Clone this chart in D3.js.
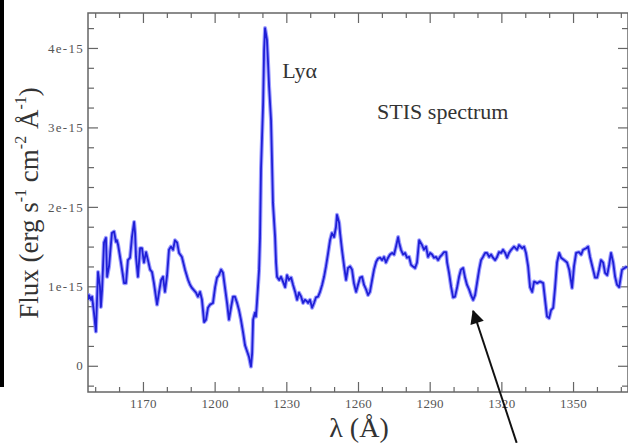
<!DOCTYPE html>
<html>
<head>
<meta charset="utf-8">
<script src="https://cdn.jsdelivr.net/npm/d3@7"></script>
<style>
  body { margin: 0; background: #fff; }
  svg { display: block; font-family: "Liberation Serif", "DejaVu Serif", serif; }
</style>
</head>
<body>
<div id="chart"></div>
<script>
// STIS spectrum, flux in units of 1e-15 erg s-1 cm-2 A-1

// wavelength (Angstrom)
const wave = [
  1147.0, 1147.4, 1148.3, 1148.7, 1149.5, 1150.3, 1151.2, 1152.0, 1152.4, 1152.9,
  1153.7, 1154.5, 1155.0, 1155.8, 1157.0, 1157.9, 1158.7, 1159.1, 1159.6, 1160.8,
  1162.1, 1162.9, 1163.7, 1164.6, 1165.4, 1166.3, 1166.7, 1167.1, 1167.9, 1168.8,
  1169.6, 1170.4, 1171.3, 1172.1, 1173.0, 1173.8, 1174.6, 1175.9, 1176.7, 1177.6,
  1178.4, 1179.2, 1180.1, 1180.9, 1181.7, 1182.6, 1183.4, 1184.3, 1185.1, 1186.3,
  1187.6, 1188.9, 1189.7, 1190.5, 1192.2, 1193.0, 1193.9, 1194.7, 1195.6, 1196.4,
  1197.2, 1198.1, 1199.3, 1200.2, 1201.0, 1201.8, 1202.7, 1203.5, 1204.3, 1205.2,
  1206.0, 1206.9, 1207.7, 1208.5, 1209.4, 1210.2, 1211.0, 1211.9, 1212.7, 1213.6,
  1214.4, 1215.2, 1215.7, 1216.1, 1216.9, 1217.3, 1217.7, 1218.6, 1219.0, 1219.4,
  1220.3, 1220.7, 1221.1, 1221.9, 1222.3, 1222.8, 1223.6, 1224.0, 1224.4, 1225.3,
  1225.7, 1226.1, 1227.0, 1227.8, 1228.6, 1229.5, 1230.3, 1231.1, 1232.0, 1232.8,
  1233.7, 1234.5, 1235.3, 1236.2, 1237.0, 1237.8, 1238.7, 1239.1, 1239.9, 1240.8,
  1241.6, 1242.4, 1243.3, 1244.1, 1245.0, 1245.8, 1246.6, 1247.5, 1248.3, 1249.1,
  1250.0, 1250.8, 1251.2, 1252.1, 1252.5, 1253.3, 1254.2, 1255.0, 1255.8, 1256.7,
  1257.5, 1258.3, 1259.2, 1260.0, 1260.9, 1261.7, 1262.5, 1263.4, 1264.2, 1265.0,
  1265.9, 1266.7, 1267.6, 1268.4, 1269.2, 1270.1, 1270.9, 1271.7, 1272.6, 1273.4,
  1274.3, 1275.1, 1275.9, 1276.8, 1277.2, 1278.0, 1278.9, 1279.7, 1280.5, 1281.4,
  1282.2, 1283.0, 1283.9, 1284.7, 1285.6, 1286.8, 1287.6, 1288.5, 1289.3, 1290.2,
  1291.0, 1291.8, 1292.7, 1293.5, 1294.3, 1295.2, 1296.0, 1296.9, 1297.3, 1298.1,
  1299.0, 1299.8, 1300.6, 1301.5, 1302.3, 1303.1, 1304.0, 1304.8, 1305.6, 1306.5,
  1307.3, 1308.2, 1309.0, 1309.8, 1310.7, 1311.5, 1312.3, 1313.2, 1314.0, 1314.9,
  1315.7, 1316.5, 1317.4, 1318.2, 1319.0, 1319.9, 1320.7, 1321.6, 1322.4, 1323.2,
  1324.1, 1325.3, 1326.6, 1327.4, 1328.7, 1329.5, 1330.3, 1331.2, 1332.0, 1332.9,
  1333.7, 1335.0, 1336.2, 1337.5, 1338.3, 1339.1, 1340.0, 1340.8, 1341.7, 1342.5,
  1343.3, 1344.2, 1345.0, 1346.3, 1347.5, 1348.4, 1349.2, 1349.6, 1350.4, 1351.3,
  1352.5, 1353.4, 1354.2, 1355.5, 1356.3, 1357.1, 1358.4, 1359.2, 1360.1, 1360.9,
  1361.7, 1362.6, 1363.4, 1364.3, 1365.1, 1365.9, 1366.8, 1367.6, 1368.4, 1369.3,
  1370.5, 1372.6
];

// flux (1e-15 erg s-1 cm-2 A-1)
const flux = [
  0.83, 0.89, 0.83, 0.87, 0.67, 0.43, 1.18, 1.00, 0.74, 0.96,
  1.55, 1.61, 1.12, 1.25, 1.67, 1.69, 1.56, 1.58, 1.52, 1.30,
  1.04, 1.04, 1.33, 1.36, 1.62, 1.81, 1.67, 1.37, 1.12, 1.48,
  1.48, 1.30, 1.43, 1.33, 1.21, 1.18, 1.04, 0.77, 0.92, 1.08,
  1.12, 0.93, 1.14, 1.46, 1.50, 1.46, 1.58, 1.55, 1.42, 1.37,
  1.21, 1.08, 1.02, 0.98, 0.92, 0.87, 0.93, 0.83, 0.55, 0.58,
  0.73, 0.77, 0.79, 0.99, 1.11, 1.14, 1.21, 1.17, 0.99, 0.79,
  0.58, 0.74, 0.87, 0.87, 0.79, 0.70, 0.58, 0.42, 0.26, 0.18,
  0.11, -0.01, 0.16, 0.58, 0.67, 0.62, 0.79, 1.21, 1.62, 2.47,
  3.31, 3.97, 4.25, 4.10, 3.85, 3.51, 3.09, 2.59, 2.05, 1.62,
  1.30, 1.12, 1.08, 1.12, 1.06, 0.99, 1.14, 1.08, 1.11, 1.02,
  0.93, 0.83, 0.92, 0.87, 0.79, 0.83, 0.81, 0.79, 0.83, 0.73,
  0.79, 0.86, 0.87, 0.93, 1.02, 1.12, 1.25, 1.42, 1.58, 1.67,
  1.62, 1.75, 1.90, 1.80, 1.67, 1.46, 1.25, 1.08, 1.23, 1.25,
  1.21, 1.04, 0.93, 1.02, 1.11, 1.12, 1.02, 0.96, 0.89, 0.93,
  1.08, 1.21, 1.31, 1.35, 1.36, 1.33, 1.37, 1.30, 1.36, 1.40,
  1.42, 1.40, 1.50, 1.62, 1.55, 1.46, 1.40, 1.42, 1.36, 1.37,
  1.27, 1.25, 1.23, 1.30, 1.58, 1.52, 1.46, 1.50, 1.37, 1.42,
  1.40, 1.36, 1.37, 1.33, 1.37, 1.40, 1.43, 1.43, 1.30, 1.17,
  0.99, 0.86, 0.87, 0.99, 1.12, 1.21, 1.23, 1.11, 1.02, 0.96,
  0.89, 0.83, 0.89, 1.04, 1.21, 1.33, 1.37, 1.42, 1.42, 1.37,
  1.40, 1.36, 1.33, 1.37, 1.43, 1.42, 1.46, 1.42, 1.36, 1.42,
  1.46, 1.50, 1.46, 1.52, 1.48, 1.50, 1.42, 1.25, 0.99, 0.93,
  1.06, 1.04, 1.06, 1.04, 0.83, 0.62, 0.60, 0.70, 0.73, 0.99,
  1.30, 1.42, 1.36, 1.33, 1.30, 1.21, 1.06, 0.98, 1.25, 1.42,
  1.43, 1.40, 1.46, 1.48, 1.50, 1.37, 1.21, 1.11, 1.11, 1.21,
  1.33, 1.30, 1.17, 1.14, 1.27, 1.42, 1.30, 1.12, 1.02, 0.99,
  1.21, 1.25
];

// axis ticks
const xMajorTicks = [1170, 1200, 1230, 1260, 1290, 1320, 1350];
const yMajorTicks = [0, 1, 2, 3, 4];

// annotation: arrow from below the axis up to the absorption dip
const arrowTail = [1326.4, -0.97];
const arrowTip = [1308.2, 0.69];

const W = 628, H = 443;
const margin = { left: 88, top: 13, right: 0, bottom: 51 };
const plotW = W - margin.left - margin.right;
const plotH = H - margin.top - margin.bottom;

const x = d3.scaleLinear().domain([1147, 1373]).range([0, plotW]);
const y = d3.scaleLinear().domain([-0.33, 4.44]).range([plotH, 0]);

const svg = d3.select("#chart").append("svg")
  .attr("width", W).attr("height", H);

// black bar at the left edge of the picture
svg.append("rect")
  .attr("x", 0).attr("y", 0).attr("width", 4).attr("height", 387)
  .attr("fill", "#000");

const g = svg.append("g").attr("transform", `translate(${margin.left},${margin.top})`);

g.append("clipPath").attr("id", "clip")
  .append("rect").attr("width", plotW).attr("height", plotH);

const axisColor = "#666";
const labelColor = "#555";
const yFmt = d => d === 0 ? "0" : d + "e-15";

// minor ticks
const xMinor = d3.range(1150, 1373, 10).filter(v => !xMajorTicks.includes(v));
const yMinor = d3.range(-0.25, 4.44, 0.25).filter(v => Math.abs(v - Math.round(v)) > 0.01);

function styleAxis(sel) {
  sel.select(".domain").remove();
  sel.selectAll("line").attr("stroke", axisColor).attr("stroke-width", 1.2);
  sel.selectAll("text")
    .attr("fill", labelColor)
    .style("font-size", "13px")
    .style("font-family", "'Liberation Serif', serif");
}

// bottom
g.append("g").attr("transform", `translate(0,${plotH})`)
  .call(d3.axisBottom(x).tickValues(xMajorTicks).tickFormat(d3.format("d")).tickSize(-10).tickPadding(7))
  .call(styleAxis)
  .selectAll("text").style("letter-spacing", "0.3px");
g.append("g").attr("transform", `translate(0,${plotH})`)
  .call(d3.axisBottom(x).tickValues(xMinor).tickFormat("").tickSize(-5))
  .call(styleAxis);
// top
g.append("g")
  .call(d3.axisTop(x).tickValues(xMajorTicks).tickFormat("").tickSize(-10))
  .call(styleAxis);
g.append("g")
  .call(d3.axisTop(x).tickValues(xMinor).tickFormat("").tickSize(-5))
  .call(styleAxis);
// left
g.append("g")
  .call(d3.axisLeft(y).tickValues(yMajorTicks).tickFormat(yFmt).tickSize(-10).tickPadding(4))
  .call(styleAxis)
  .selectAll("text").style("letter-spacing", "1.3px");
g.append("g")
  .call(d3.axisLeft(y).tickValues(yMinor).tickFormat("").tickSize(-6))
  .call(styleAxis);
// right
g.append("g").attr("transform", `translate(${plotW},0)`)
  .call(d3.axisRight(y).tickValues(yMajorTicks).tickFormat("").tickSize(-10))
  .call(styleAxis);
g.append("g").attr("transform", `translate(${plotW},0)`)
  .call(d3.axisRight(y).tickValues(yMinor).tickFormat("").tickSize(-6))
  .call(styleAxis);

// frame
g.append("rect")
  .attr("width", plotW).attr("height", plotH)
  .attr("fill", "none").attr("stroke", axisColor).attr("stroke-width", 1.5);

// spectrum
const pts = wave.map((w, i) => [w, flux[i]]);
const line = d3.line().x(d => x(d[0])).y(d => y(d[1]));

const lineG = g.append("g").attr("clip-path", "url(#clip)");
lineG.append("path").datum(pts)
  .attr("d", line)
  .attr("fill", "none")
  .attr("stroke", "#7a7aff")
  .attr("stroke-width", 4)
  .attr("stroke-linejoin", "round")
  .attr("opacity", 0.75);
lineG.append("path").datum(pts)
  .attr("d", line)
  .attr("fill", "none")
  .attr("stroke", "#1f1fd6")
  .attr("stroke-width", 1.8)
  .attr("stroke-linejoin", "round");

// text labels
g.append("text")
  .attr("x", x(1228.3)).attr("y", y(3.62))
  .attr("fill", "#333").style("font-size", "22px")
  .text("Lyα");

g.append("text")
  .attr("x", x(1268.0)).attr("y", y(3.11))
  .attr("fill", "#333").style("font-size", "22px")
  .text("STIS spectrum");

// axis titles
svg.append("text")
  .attr("x", 359).attr("y", 437)
  .attr("text-anchor", "middle")
  .attr("fill", "#333").style("font-size", "28px")
  .text("λ (Å)");

const yl = svg.append("text")
  .attr("transform", "translate(38,203) rotate(-90)")
  .attr("text-anchor", "middle")
  .attr("fill", "#333").style("font-size", "27px");
yl.append("tspan").text("Flux (erg s");
yl.append("tspan").attr("dy", -12).style("font-size", "16px").text("-1");
yl.append("tspan").attr("dy", 12).text(" cm");
yl.append("tspan").attr("dy", -12).style("font-size", "16px").text("-2");
yl.append("tspan").attr("dy", 12).text(" Å");
yl.append("tspan").attr("dy", -12).style("font-size", "16px").text("-1");
yl.append("tspan").attr("dy", 12).text(")");

// arrow
svg.append("defs").append("marker")
  .attr("id", "head")
  .attr("viewBox", "0 0 10 10")
  .attr("refX", 9).attr("refY", 5)
  .attr("markerWidth", 8).attr("markerHeight", 7)
  .attr("markerUnits", "strokeWidth")
  .attr("orient", "auto")
  .append("path").attr("d", "M0,0 L10,5 L0,10 z").attr("fill", "#111");

g.append("line")
  .attr("x1", x(arrowTail[0])).attr("y1", y(arrowTail[1]))
  .attr("x2", x(arrowTip[0])).attr("y2", y(arrowTip[1]))
  .attr("stroke", "#111").attr("stroke-width", 2)
  .attr("marker-end", "url(#head)");
</script>
</body>
</html>
